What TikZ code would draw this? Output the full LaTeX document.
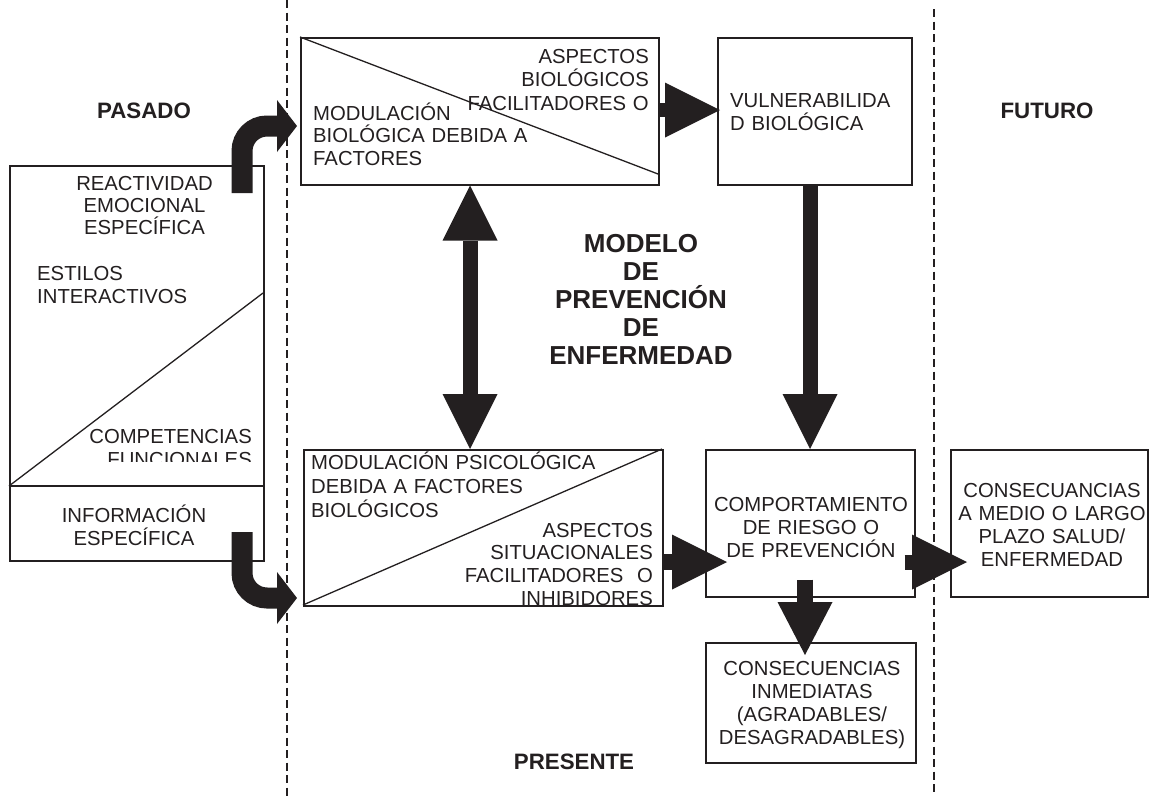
\documentclass[tikz,border=0pt]{standalone}
\usepackage{fontspec}
\setmainfont{Liberation Sans}
\usetikzlibrary{arrows.meta,calc}
\definecolor{ink}{RGB}{35,31,32}
\begin{document}
\begin{tikzpicture}[x=1pt,y=-1pt,
  box/.style={draw=ink, line width=1.5pt, inner sep=0pt, anchor=north west},
  txt/.style={inner sep=0pt, text=ink, text width=300pt, font=\fontsize{20.3}{23}\selectfont},
  lbl/.style={inner sep=0pt, text=ink, font=\bfseries\fontsize{22.3}{24}\selectfont, anchor=base},
  fat/.style={draw=ink, line width=15pt, -{Triangle[length=55pt,width=55pt,line width=0pt]}},
  fatboth/.style={draw=ink, line width=15pt, {Triangle[length=55pt,width=55pt,line width=0pt]}-{Triangle[length=55pt,width=55pt,line width=0pt]}},
  curvy/.style={draw=ink, line width=21pt, rounded corners=25pt, -{Triangle[length=20pt,width=52pt,line width=0pt]}},
  divider/.style={draw=ink, line width=1.5pt, dash pattern=on 8pt off 4.5pt},
  thinline/.style={draw=ink, line width=1.3pt}
]
\useasboundingbox (0,0) rectangle (1149,796);
\fill[white] (0,0) rectangle (1149,796);

% time dividers
\coordinate (p1a) at (287,0); \coordinate (p1b) at (287,796);
\coordinate (p2a) at (934,9); \coordinate (p2b) at (934,796);
\draw[divider] (p1a) -- (p1b);
\draw[divider] (p2a) -- (p2b);

% boxes
\node[box, minimum width=254pt, minimum height=395pt] (lb) at (9,165) {};
\node[box, minimum width=358pt, minimum height=147pt] (tb) at (300,37) {};
\node[box, minimum width=194pt, minimum height=147pt] (vb) at (717,37) {};
\node[box, minimum width=359pt, minimum height=156pt] (bb) at (303,449) {};
\node[box, minimum width=209pt, minimum height=147pt] (cb) at (705,449) {};
\node[box, minimum width=197pt, minimum height=147pt] (lt) at (950,449) {};
\node[box, minimum width=210pt, minimum height=120pt] (ci) at (705,642) {};

% inner lines
\draw[thinline] (9,486) -- (263,486);
\draw[thinline] (9,486) -- (263,293);
\draw[thinline] (300,37) -- (658,174);
\draw[thinline] (303,605) -- (662,449);

% labels
\node[lbl] (pasado) at (144,118) {PASADO};
\node[lbl] (futuro) at (1047,118) {FUTURO};
\node[lbl] (presente) at (574,769) {PRESENTE};
\node[inner sep=0pt, text=ink, text width=300pt, align=center, anchor=base,
      font=\bfseries\fontsize{26}{28}\selectfont] (title) at (641,252)
      {MODELO\\DE\\PREVENCIÓN\\DE\\ENFERMEDAD};

% texts
\node[txt, align=center, anchor=base, font=\fontsize{20.3}{22}\selectfont] (t1) at (144.5,190) {REACTIVIDAD\\EMOCIONAL\\ESPECÍFICA};
\node[txt, align=left, anchor=base west] (t2) at (37,280) {ESTILOS\\INTERACTIVOS};
\begin{scope}
\clip (9,165) rectangle (263,461);
\node[txt, align=right, anchor=base east] (t3) at (252,443) {COMPETENCIAS\\FUNCIONALES};
\end{scope}
\node[txt, align=center, anchor=base] (t4) at (134,522) {INFORMACIÓN\\ESPECÍFICA};
\node[txt, align=right, anchor=base east, font=\fontsize{20.3}{23.5}\selectfont] (t5) at (649,63) {ASPECTOS\\BIOLÓGICOS\\FACILITADORES O};
\node[txt, align=left, anchor=base west, font=\fontsize{20.3}{22.5}\selectfont] (t6) at (313,120) {MODULACIÓN\\BIOLÓGICA DEBIDA A\\FACTORES};
\node[txt, align=left, anchor=base west] (t7) at (730,107) {VULNERABILIDA\\D BIOLÓGICA};
\node[txt, align=left, anchor=base west, font=\fontsize{20.3}{24}\selectfont] (t8) at (311,469) {MODULACIÓN PSICOLÓGICA\\DEBIDA A FACTORES\\BIOLÓGICOS};
\node[txt, align=right, anchor=base east, font=\fontsize{20.3}{22.7}\selectfont] (t9) at (653,537) {ASPECTOS\\SITUACIONALES\\FACILITADORES\ \ O\\INHIBIDORES};
\node[txt, align=center, anchor=base] (t10) at (811,511) {COMPORTAMIENTO\\DE RIESGO O\\DE PREVENCIÓN};
\node[txt, align=center, anchor=base, font=\fontsize{20.3}{23.3}\selectfont] (t11) at (1052,497) {CONSECUANCIAS\\A MEDIO O LARGO\\PLAZO SALUD/\\ENFERMEDAD};
\node[txt, align=center, anchor=base, font=\fontsize{20.3}{23.3}\selectfont] (t12) at (812,675) {CONSECUENCIAS\\INMEDIATAS\\(AGRADABLES/\\DESAGRADABLES)};

% connectors
\coordinate (cx1) at (470,0);
\draw[fatboth] (tb.south -| cx1) -- (bb.north -| cx1);
\coordinate (cx2) at (810,0);
\draw[fat] (vb.south -| cx2) -- (cb.north -| cx2);
\coordinate (ay1) at (0,110);
\draw[fat, line width=14pt] (tb.east |- ay1) -- ($(vb.west |- ay1)+(3,0)$);
\coordinate (ay2) at (0,562);
\draw[fat, line width=16pt] (bb.east |- ay2) -- ($(cb.west |- ay2)+(22,0)$);
\draw[fat] ($(cb.east |- ay2)+(-11,0)$) -- ($(lt.west |- ay2)+(17,0)$);
\coordinate (cx3) at (805,0);
\draw[draw=ink, line width=16pt, -{Triangle[length=53pt,width=55pt,line width=0pt]}] ($(cb.south -| cx3)+(0,-18)$) -- ($(ci.north -| cx3)+(0,13)$);

\coordinate (c1s) at (242,193); \coordinate (c1e) at (297,126);
\draw[curvy] (c1s) -- (c1s |- c1e) -- (c1e);
\coordinate (c2s) at (242,532); \coordinate (c2e) at (297,598);
\draw[curvy] (c2s) -- (c2s |- c2e) -- (c2e);
\end{tikzpicture}
\end{document}
